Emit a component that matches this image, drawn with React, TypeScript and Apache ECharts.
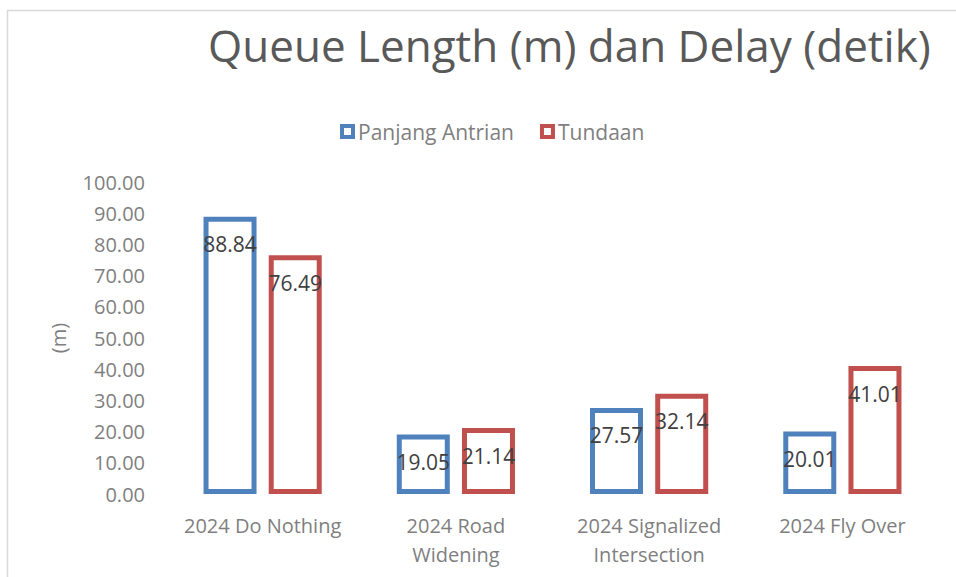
import React, { useEffect, useRef } from "react";
import * as echarts from "echarts";

const categories = ["2024 Do Nothing", "2024 Road\nWidening", "2024 Signalized\nIntersection", "2024 Fly Over"];
const panjangAntrian = [88.84, 19.05, 27.57, 20.01];
const tundaan = [76.49, 21.14, 32.14, 41.01];
const seriesNames = ["Panjang Antrian", "Tundaan"];
const titleText = "Queue Length (m) dan Delay (detik)";
const yAxisName = "(m)";

const FONT = "'Open Sans', 'Noto Sans', sans-serif";
const BLUE = "#4F81BD";
const RED = "#C0504D";

export default function App() {
  const ref = useRef<HTMLDivElement>(null);
  useEffect(() => {
    if (!ref.current) return;
    const chart = echarts.init(ref.current, undefined, { renderer: "svg" });
    const label = {
      show: true,
      position: "insideTop",
      distance: 17,
      fontSize: 21,
      fontFamily: FONT,
      color: "#404040",
      formatter: (p: any) => Number(p.value).toFixed(2),
    };
    chart.setOption({
      animation: false,
      backgroundColor: "#ffffff",
      textStyle: { fontFamily: FONT },
      title: {
        text: titleText,
        left: 203,
        top: 18,
        textStyle: { fontSize: 44, fontWeight: "normal", color: "#595959", fontFamily: FONT },
      },
      graphic: [
        {
          type: "rect",
          shape: { x: 7.5, y: 10.5, width: 2000, height: 2000 },
          style: { fill: "none", stroke: "#D9D9D9", lineWidth: 1.5 },
          silent: true,
          z: -10,
        },
      ],
      legend: {
        left: 335,
        top: 116,
        itemWidth: 11,
        itemHeight: 11,
        itemGap: 26,
        textStyle: { fontSize: 21, color: "#7F7F7F", fontFamily: FONT, padding: [0, 0, 0, 0] },
        data: [
          { name: seriesNames[0], icon: "rect", itemStyle: { color: "#fff", borderColor: BLUE, borderWidth: 4 } },
          { name: seriesNames[1], icon: "rect", itemStyle: { color: "#fff", borderColor: RED, borderWidth: 4 } },
        ],
      },
      grid: { left: 166, right: 17, top: 182, bottom: 83, containLabel: false },
      xAxis: {
        type: "category",
        data: categories,
        axisLine: { show: false },
        axisTick: { show: false },
        axisLabel: { fontSize: 20, color: "#7F7F7F", fontFamily: FONT, margin: 17, lineHeight: 29, interval: 0 },
      },
      yAxis: {
        type: "value",
        min: 0,
        max: 100,
        interval: 10,
        name: yAxisName,
        nameLocation: "middle",
        nameGap: 98,
        nameTextStyle: { fontSize: 20, color: "#7F7F7F", fontFamily: FONT },
        axisLine: { show: false },
        axisTick: { show: false },
        splitLine: { show: false },
        axisLabel: {
          fontSize: 20,
          color: "#7F7F7F",
          fontFamily: FONT,
          margin: 21,
          formatter: (v: number) => v.toFixed(2),
        },
      },
      series: [
        {
          name: seriesNames[0],
          type: "bar",
          data: panjangAntrian,
          barWidth: 53,
          barGap: "23%",
          itemStyle: { color: "#ffffff", borderColor: BLUE, borderWidth: 5 },
          label,
        },
        {
          name: seriesNames[1],
          type: "bar",
          data: tundaan,
          barWidth: 53,
          barGap: "23%",
          itemStyle: { color: "#ffffff", borderColor: RED, borderWidth: 5 },
          label,
        },
      ],
    });
    return () => chart.dispose();
  }, []);
  return (
    <div
      ref={ref}
      style={{ position: "fixed", left: 0, top: 0, width: 956, height: 577 }}
    />
  );
}
